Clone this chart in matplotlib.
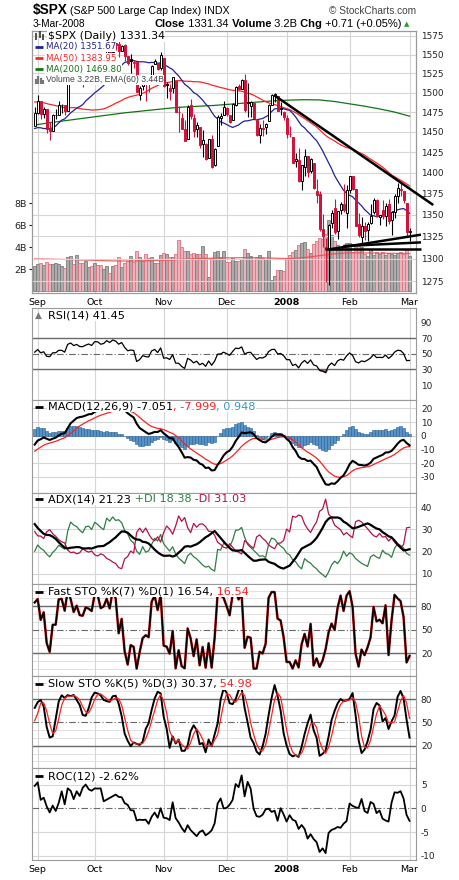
import numpy as np
import pandas as pd
import matplotlib
matplotlib.use('Agg')
import matplotlib.pyplot as plt
from matplotlib.lines import Line2D
from matplotlib.ticker import FixedLocator, NullLocator, NullFormatter

plt.rcParams['axes.unicode_minus'] = False

W, H = 460, 880

# daily bars 31-Aug-2007 .. 3-Mar-2008
opens = [1457.6,
         1474.0, 1488.8, 1472.0, 1478.6, 1453.5, 1451.7, 1471.1, 1471.5, 1483.9, 1484.2, 1476.6, 1519.8, 1528.7, 1518.8, 1525.8, 1516.3, 1518.6, 1527.3, 1531.2,
         1527.3, 1546.9, 1545.8, 1539.9, 1543.8, 1556.5, 1553.2, 1565.0, 1564.7, 1555.4, 1562.3, 1547.8, 1544.4, 1539.3, 1540.0, 1497.0, 1509.0, 1516.6, 1516.2, 1522.2, 1536.9, 1539.4, 1532.2,
         1545.8, 1511.1, 1505.6, 1505.3, 1515.5, 1475.3, 1467.6, 1453.7, 1441.4, 1483.4, 1468.0, 1453.1, 1456.7, 1434.5, 1434.7, 1417.6, 1440.7, 1409.6, 1432.9, 1467.4, 1471.8,
         1479.6, 1471.3, 1465.2, 1484.6, 1508.6, 1505.1, 1516.7, 1487.6, 1483.3, 1486.2, 1465.1, 1445.9, 1454.7, 1456.4, 1463.2, 1484.6, 1495.1, 1495.1, 1479.8, 1475.3,
         1468.0, 1447.6, 1444.0, 1414.1, 1415.7, 1390.3, 1406.8, 1419.9, 1401.6, 1411.9, 1377.4, 1374.8, 1333.9, 1312.9, 1310.4, 1340.1, 1357.3, 1330.7, 1355.9, 1362.2, 1352.0,
         1378.6, 1395.4, 1380.3, 1339.5, 1324.0, 1336.9, 1331.9, 1340.6, 1353.1, 1367.3, 1347.5, 1355.9, 1348.4, 1362.2, 1344.2, 1352.8, 1371.8, 1379.0, 1378.2, 1364.1,
         1330.5]
highs = [1481.5,
         1496.4, 1488.8, 1481.5, 1478.6, 1462.0, 1472.5, 1479.5, 1489.6, 1485.4, 1484.2, 1519.9, 1538.7, 1529.1, 1530.9, 1530.0, 1518.3, 1529.4, 1532.5, 1533.7,
         1549.0, 1548.0, 1546.3, 1544.0, 1561.9, 1556.5, 1565.3, 1565.4, 1576.1, 1563.0, 1564.7, 1547.8, 1550.7, 1542.8, 1540.0, 1508.1, 1520.0, 1517.2, 1523.2, 1535.5, 1544.7, 1539.4, 1552.8,
         1545.8, 1513.2, 1510.8, 1520.8, 1515.5, 1482.5, 1474.1, 1464.9, 1483.4, 1492.1, 1472.7, 1462.2, 1456.7, 1452.6, 1436.4, 1440.9, 1446.1, 1429.5, 1471.6, 1473.8, 1488.9,
         1481.2, 1471.3, 1486.1, 1508.0, 1510.6, 1518.3, 1523.6, 1512.0, 1489.4, 1486.7, 1465.1, 1460.2, 1464.4, 1461.5, 1485.4, 1497.6, 1498.9, 1495.1, 1488.0, 1475.8,
         1471.8, 1456.8, 1444.0, 1423.9, 1430.3, 1409.2, 1429.1, 1419.9, 1417.3, 1411.9, 1392.0, 1377.7, 1350.3, 1322.7, 1339.0, 1355.2, 1368.6, 1354.0, 1364.9, 1385.9, 1385.6,
         1396.0, 1395.4, 1380.3, 1352.0, 1347.3, 1341.2, 1341.4, 1362.1, 1369.2, 1368.2, 1350.0, 1367.3, 1363.7, 1367.9, 1354.3, 1374.4, 1387.3, 1388.3, 1378.2, 1364.1,
         1335.1]
lows = [1457.6,
        1472.2, 1466.3, 1467.4, 1449.1, 1439.3, 1451.7, 1465.8, 1471.5, 1473.2, 1471.8, 1476.6, 1519.8, 1516.4, 1518.8, 1514.5, 1507.1, 1518.6, 1524.8, 1521.0,
        1527.3, 1540.6, 1536.3, 1536.5, 1543.8, 1549.0, 1551.8, 1555.5, 1546.7, 1554.1, 1540.8, 1536.3, 1526.0, 1531.8, 1500.3, 1490.4, 1503.6, 1489.6, 1500.5, 1522.2, 1536.9, 1529.6, 1529.4,
        1506.7, 1492.5, 1489.9, 1499.1, 1475.0, 1450.3, 1453.0, 1438.5, 1441.4, 1466.5, 1443.5, 1444.0, 1430.4, 1419.3, 1415.6, 1417.6, 1406.1, 1407.4, 1432.9, 1458.4, 1470.9,
        1470.1, 1460.7, 1465.2, 1482.2, 1502.7, 1504.7, 1475.0, 1468.2, 1469.2, 1467.8, 1445.4, 1435.7, 1445.3, 1447.5, 1463.2, 1484.6, 1488.2, 1475.9, 1471.7, 1465.1,
        1442.1, 1443.7, 1411.2, 1406.5, 1388.3, 1378.7, 1395.3, 1394.8, 1399.8, 1380.6, 1364.3, 1330.7, 1312.5, 1274.0, 1270.1, 1334.3, 1327.5, 1322.3, 1350.3, 1353.0, 1334.1,
        1375.9, 1379.7, 1336.6, 1324.3, 1317.5, 1321.1, 1320.3, 1339.4, 1350.8, 1347.3, 1338.1, 1345.0, 1336.8, 1339.4, 1327.0, 1346.1, 1363.3, 1372.0, 1363.2, 1325.4,
        1320.0]
closes = [1473.99,
          1489.42, 1472.29, 1478.55, 1453.55, 1451.70, 1471.49, 1471.56, 1483.95, 1484.25, 1476.65, 1519.78, 1529.03, 1518.75, 1525.75, 1517.73, 1517.21, 1525.42, 1531.38, 1526.75,
          1547.04, 1546.63, 1539.59, 1542.84, 1557.59, 1552.58, 1565.15, 1562.47, 1554.41, 1561.80, 1548.71, 1538.53, 1541.24, 1540.08, 1500.63, 1506.33, 1519.59, 1515.88, 1514.40, 1535.28, 1540.98, 1531.02, 1549.38,
          1508.44, 1509.65, 1502.17, 1520.27, 1475.62, 1474.77, 1453.70, 1439.18, 1481.05, 1470.58, 1451.15, 1458.74, 1433.27, 1439.70, 1416.77, 1440.70, 1407.22, 1428.23, 1469.02, 1469.72, 1481.14,
          1472.42, 1462.79, 1485.01, 1507.34, 1504.66, 1515.96, 1477.65, 1486.59, 1488.41, 1467.95, 1445.90, 1454.98, 1453.00, 1460.12, 1484.46, 1496.45, 1497.66, 1476.27, 1478.49, 1468.36,
          1447.16, 1447.16, 1411.63, 1416.18, 1390.19, 1409.13, 1420.33, 1401.02, 1416.25, 1380.95, 1373.20, 1333.25, 1325.19, 1310.50, 1338.60, 1352.07, 1330.61, 1353.96, 1362.30, 1355.81, 1378.55,
          1395.42, 1380.82, 1336.64, 1326.45, 1336.91, 1331.29, 1339.13, 1348.86, 1367.21, 1348.86, 1349.99, 1348.78, 1360.03, 1342.53, 1353.11, 1371.80, 1381.29, 1380.02, 1367.68, 1330.63,
          1331.34]
# billions of shares
volume = [2.30,
          2.45, 2.55, 2.40, 2.70, 2.50, 2.50, 2.60, 2.50, 2.30, 2.10, 3.10, 3.20, 2.45, 3.30, 2.60, 2.60, 2.75, 2.20, 2.30,
          2.55, 2.40, 2.40, 2.00, 2.30, 1.65, 2.30, 2.40, 3.10, 2.20, 2.60, 2.75, 3.20, 2.70, 3.65, 3.10, 2.75, 3.40, 3.00, 3.10, 2.60, 2.60, 3.30,
          3.45, 3.40, 3.10, 3.10, 3.40, 4.65, 4.00, 3.65, 3.65, 3.40, 3.50, 3.40, 3.40, 4.10, 3.40, 1.30, 3.00, 3.55, 3.70, 3.10, 3.70,
          2.70, 2.70, 3.00, 2.80, 2.75, 2.90, 3.90, 3.50, 3.20, 2.90, 3.10, 3.30, 3.00, 2.90, 3.70, 1.00, 1.40, 1.90, 1.90, 1.85,
          3.00, 3.30, 3.60, 3.80, 4.20, 4.40, 4.50, 3.90, 3.50, 4.30, 4.60, 4.85, 4.80, 5.20, 6.50, 5.10, 4.60, 4.20, 3.90, 4.00, 4.40,
          4.40, 3.60, 4.00, 4.10, 4.00, 3.40, 3.20, 3.90, 3.30, 3.60, 3.40, 3.60, 3.30, 3.50, 3.40, 3.30, 3.50, 3.60, 3.40, 3.90,
          3.22]

# Jun-Aug 2007 history, only used to warm up the indicators
pre_close = [1536.34, 1539.18, 1530.95, 1517.38, 1490.72, 1507.67, 1509.12, 1493.00, 1515.67, 1522.97, 1532.91, 1531.05, 1533.70, 1512.84, 1522.19, 1502.56, 1497.74, 1492.89, 1506.34, 1505.71, 1503.35,
             1519.43, 1524.87, 1525.40, 1530.44, 1531.85, 1510.12, 1518.76, 1547.70, 1552.50, 1549.52, 1549.37, 1546.17, 1553.08, 1534.10, 1541.57, 1511.04, 1518.09, 1482.66, 1458.95, 1473.91, 1455.27,
             1465.81, 1472.20, 1433.06, 1467.67, 1476.71, 1497.49, 1453.09, 1453.64, 1452.92, 1426.54, 1406.70, 1411.27, 1445.94, 1445.55, 1447.12, 1464.07, 1462.50, 1479.37, 1466.79, 1432.36, 1463.76, 1457.64]
pre_high = [1540.5, 1540.6, 1539.2, 1530.9, 1517.4, 1507.8, 1515.5, 1511.3, 1515.7, 1526.5, 1538.7, 1535.0, 1535.4, 1537.3, 1522.9, 1522.2, 1514.6, 1506.1, 1506.6, 1514.8, 1517.5,
            1519.5, 1526.0, 1526.9, 1530.4, 1534.3, 1531.9, 1519.3, 1547.9, 1555.1, 1555.9, 1555.2, 1549.4, 1555.9, 1553.1, 1547.2, 1541.6, 1526.0, 1518.1, 1488.5, 1477.9, 1488.3,
            1468.4, 1476.4, 1473.2, 1467.7, 1488.3, 1503.9, 1497.5, 1462.0, 1466.3, 1456.7, 1440.8, 1415.1, 1450.3, 1451.8, 1456.1, 1464.9, 1472.1, 1479.4, 1479.4, 1466.8, 1463.8, 1468.4]
pre_low = [1530.6, 1530.5, 1525.6, 1514.9, 1490.4, 1490.7, 1506.1, 1492.8, 1492.9, 1515.7, 1523.0, 1529.3, 1525.7, 1512.4, 1504.8, 1500.7, 1492.7, 1490.5, 1484.2, 1503.4, 1493.6,
           1503.4, 1519.4, 1517.7, 1520.1, 1527.5, 1510.0, 1506.1, 1518.8, 1544.9, 1546.7, 1547.2, 1533.7, 1546.2, 1529.2, 1534.1, 1508.6, 1503.2, 1465.7, 1458.9, 1454.3, 1454.3,
           1439.6, 1460.6, 1432.8, 1427.4, 1455.8, 1476.7, 1453.0, 1429.7, 1451.5, 1425.0, 1404.4, 1370.6, 1411.3, 1430.5, 1432.5, 1447.1, 1452.5, 1460.3, 1465.8, 1432.0, 1432.4, 1451.3]

# every 5th bar
ma200_idx = list(range(0, 126, 5))
ma200_val = [1458.6, 1461.5, 1464.0, 1466.5, 1469.0, 1471.5, 1474.0, 1476.0, 1478.0, 1480.0, 1481.5, 1482.5, 1483.5,
             1485.0, 1486.5, 1488.0, 1489.5, 1490.3, 1490.8, 1490.5, 1488.5, 1485.5, 1482.5, 1479.0, 1475.0, 1469.8]
vol_ema_val = [2.95, 2.93, 2.90, 2.86, 2.82, 2.78, 2.76, 2.77, 2.80, 2.85, 2.93, 2.99, 3.02,
               3.05, 3.07, 3.06, 3.02, 2.98, 3.08, 3.25, 3.42, 3.50, 3.50, 3.48, 3.46, 3.44]

month_idx = [1, 20, 43, 64, 84, 105, 125]
month_lbl = ['Sep', 'Oct', 'Nov', 'Dec', '2008', 'Feb', 'Mar']
price_ticks = [1275, 1300, 1325, 1350, 1375, 1400, 1425, 1450, 1475, 1500, 1525, 1550, 1575]

# hand drawn trendlines: (bar index, price)
trend_lines = [([80.1, 132.9], [1496.0, 1361.4]),
               ([96.8, 128.8], [1310.3, 1310.3]),
               ([98.2, 128.8], [1310.3, 1327.0]),
               ([102.9, 128.8], [1314.0, 1318.2])]

# ---- indicators ----
c = pd.Series(pre_close + closes)
hi = pd.Series(pre_high + highs)
lo = pd.Series(pre_low + lows)
k0 = len(pre_close)


def shown(s):
    return s.iloc[k0:].to_numpy()


ma20 = shown(c.rolling(20).mean())
ma50 = shown(c.rolling(50).mean())

d = c.diff()
gain = d.clip(lower=0).ewm(alpha=1 / 14, adjust=False).mean()
loss = (-d.clip(upper=0)).ewm(alpha=1 / 14, adjust=False).mean()
rsi = shown(100 - 100 / (1 + gain / loss))

macd_s = c.ewm(span=12, adjust=False).mean() - c.ewm(span=26, adjust=False).mean()
sig_s = macd_s.ewm(span=9, adjust=False).mean()
macd = shown(macd_s)
sig = shown(sig_s)
hist = macd - sig

upm = hi.diff()
dnm = -lo.diff()
pdm = pd.Series(np.where((upm > dnm) & (upm > 0), upm, 0.0))
mdm = pd.Series(np.where((dnm > upm) & (dnm > 0), dnm, 0.0))
tr = pd.concat([hi - lo, (hi - c.shift()).abs(), (lo - c.shift()).abs()], axis=1).max(axis=1)
atr = tr.ewm(alpha=1 / 14, adjust=False).mean()
pdi_s = 100 * pdm.ewm(alpha=1 / 14, adjust=False).mean() / atr
mdi_s = 100 * mdm.ewm(alpha=1 / 14, adjust=False).mean() / atr
dx = 100 * (pdi_s - mdi_s).abs() / (pdi_s + mdi_s)
adx = shown(dx.ewm(alpha=1 / 14, adjust=False).mean())
pdi = shown(pdi_s)
mdi = shown(mdi_s)

fast_k = shown(100 * (c - lo.rolling(7).min()) / (hi.rolling(7).max() - lo.rolling(7).min()))
k5 = 100 * (c - lo.rolling(5).min()) / (hi.rolling(5).max() - lo.rolling(5).min())
slow_k_s = k5.rolling(3).mean()
slow_k = shown(slow_k_s)
slow_d = shown(slow_k_s.rolling(3).mean())
roc = shown(100 * (c / c.shift(12) - 1))

# ---- drawing ----
RED = '#d3123c'
GRID = '#d6d6d6'
idx = np.arange(len(closes))
o = np.array(opens)
cl = np.array(closes)
prev = np.r_[pre_close[-1], cl[:-1]]
up_day = cl > prev

fig = plt.figure(figsize=(W / 100, H / 100), dpi=100)
fig.patch.set_facecolor('white')


def panel(top, bottom):
    a = fig.add_axes([32 / W, 1 - bottom / H, 384 / W, (bottom - top) / H])
    a.set_xlim(-0.9, 127.15)
    for s in a.spines.values():
        s.set_color('#9a9a9a')
        s.set_linewidth(0.8)
    a.set_xticks(month_idx)
    a.xaxis.grid(True, color=GRID, lw=0.8)
    a.set_axisbelow(True)
    a.tick_params(axis='x', length=0, labelbottom=False, labelsize=6.8, pad=3.6)
    a.yaxis.tick_right()
    a.tick_params(axis='y', length=0, pad=3.5, labelsize=6.4, colors='#222222')
    return a


def month_labels(a):
    a.tick_params(axis='x', labelbottom=True)
    a.set_xticklabels(month_lbl)
    for t in a.get_xticklabels():
        if t.get_text() == '2008':
            t.set_fontweight('bold')


# price panel with volume underneath
axv = panel(31, 293)
axv.yaxis.tick_left()
axv.set_ylim(-0.15, 23.7)
axv.set_yticks([2, 4, 6, 8])
axv.set_yticklabels(['2B', '4B', '6B', '8B'])
axv.tick_params(axis='y', length=2, pad=1.5, labelsize=6.8, colors='#222222')
axv.bar(idx, volume, width=0.9,
        color=np.where(up_day, '#ababab', '#eab4bd'),
        edgecolor=np.where(up_day, '#7c7c7c', '#e07080'), linewidth=0.6)
axv.plot(ma200_idx, vol_ema_val, color='#f04848', lw=0.9, alpha=0.85)
month_labels(axv)

ax = axv.twinx()
ax.set_yscale('log')
ax.set_ylim(1261.9, 1581.8)
ax.yaxis.set_major_locator(FixedLocator(price_ticks))
ax.yaxis.set_minor_locator(NullLocator())
ax.yaxis.set_minor_formatter(NullFormatter())
ax.set_yticklabels([str(p) for p in price_ticks])
ax.tick_params(axis='y', which='both', length=0, pad=3.5, labelsize=6.4, colors='#222222')
ax.tick_params(axis='x', length=0, labelbottom=False)
ax.yaxis.grid(True, color=GRID, lw=0.8)
ax.set_axisbelow(True)
for s in ax.spines.values():
    s.set_color('#9a9a9a')
    s.set_linewidth(0.8)

ax.plot(ma200_idx, ma200_val, color='#127512', lw=0.9, zorder=2)
ax.plot(idx, ma50, color='#ff2626', lw=0.9, zorder=2)
ax.plot(idx, ma20, color='#22229a', lw=0.9, zorder=2)

cand_col = np.where(up_day, 'black', RED)
filled = cl < o
ax.vlines(idx, lows, highs, colors=cand_col, lw=0.8, zorder=3)
ax.bar(idx, np.maximum(np.abs(cl - o), 0.4), bottom=np.minimum(o, cl), width=0.66,
       color=np.where(filled, cand_col, 'white'), edgecolor=cand_col, linewidth=0.7, zorder=4)

for tx, ty in trend_lines:
    ax.plot(tx, ty, color='black', lw=1.8, clip_on=False, zorder=6, solid_capstyle='butt')

# RSI
ax_r = panel(308.3, 400)
ax_r.set_ylim(-9, 108)
ax_r.set_yticks([10, 30, 50, 70, 90])
for lv in (70, 30):
    ax_r.axhline(lv, color='#6a6a6a', lw=1)
ax_r.axhline(50, color='#6a6a6a', lw=0.8, ls=(0, (6, 2, 1, 2)))
ax_r.fill_between(idx, rsi, 30, where=rsi < 30, interpolate=True, color='#b07880')
ax_r.plot(idx, rsi, color='black', lw=0.9)

# MACD
ax_m = panel(400, 492.7)
ax_m.set_ylim(-41.7, 26.1)
ax_m.set_yticks([-30, -20, -10, 0, 10, 20])
ax_m.yaxis.grid(True, color=GRID, lw=0.8)
ax_m.bar(idx, hist, width=0.8, color='#5592c8', edgecolor='#2c5f92', linewidth=0.4)
ax_m.plot(idx, sig, color='#ff2020', lw=0.9)
ax_m.plot(idx, macd, color='black', lw=1.5)

# ADX
ax_a = panel(492.7, 584.3)
ax_a.set_ylim(5.2, 46.6)
ax_a.set_yticks([10, 20, 30, 40])
ax_a.yaxis.grid(True, color=GRID, lw=0.8)
ax_a.plot(idx, pdi, color='#2e7d46', lw=0.9)
ax_a.plot(idx, mdi, color='#b3124a', lw=0.9)
ax_a.plot(idx, adx, color='black', lw=1.6)


def sto_panel(top, bottom, ylim):
    a = panel(top, bottom)
    a.set_ylim(*ylim)
    a.set_yticks([20, 50, 80])
    for lv in (0, 10, 30, 40, 60, 70, 90, 100):
        a.axhline(lv, color='#e2e2e2', lw=0.7, zorder=0)
    for lv in (80, 20):
        a.axhline(lv, color='#6a6a6a', lw=1)
    a.axhline(50, color='#6a6a6a', lw=0.8, ls=(0, (6, 2, 1, 2)))
    return a


ax_f = sto_panel(584.3, 676, (-9, 108))
ax_f.plot(idx, fast_k, color='#c01818', lw=1.8)
ax_f.plot(idx, fast_k, color='black', lw=1.1)

ax_s = sto_panel(676, 768.3, (-9, 109.6))
ax_s.plot(idx, slow_k, color='black', lw=1.4)
ax_s.plot(idx, slow_d, color='#ff2020', lw=0.9)

# ROC
ax_c = panel(768.3, 860)
ax_c.set_ylim(-10.9, 8.5)
ax_c.set_yticks([-10, -5, 0, 5])
for lv in (-10, -5, 5):
    ax_c.axhline(lv, color=GRID, lw=0.8, zorder=0)
ax_c.axhline(0, color='#6a6a6a', lw=0.8, ls=(0, (6, 2, 1, 2)))
ax_c.plot(idx, roc, color='black', lw=1.3)
month_labels(ax_c)

# ---- texts ----
rend = fig.canvas.get_renderer()


def chain(x, y, parts, size, family='DejaVu Sans', bg=False):
    for s, col, bold in parts:
        t = fig.text(x / W, 1 - y / H, s, color=col, fontsize=size, family=family,
                     fontweight='bold' if bold else 'normal', ha='left', va='center')
        if bg:
            t.set_bbox(dict(facecolor='white', edgecolor='none', pad=0.4))
        x += t.get_window_extent(renderer=rend).width
    return x


def fline(xs, ys, col, lw):
    fig.add_artist(Line2D([v / W for v in xs], [1 - v / H for v in ys], color=col, lw=lw,
                          solid_capstyle='butt'))


def key(y, col):
    fline([35, 43.5], [y, y], col, 2)


# header
chain(32.5, 10, [(r'\$SPX', 'black', True)], 9.8, 'Liberation Sans')
chain(70, 11, [('(S&P 500 Large Cap Index) INDX', 'black', False)], 7.7, 'Liberation Sans')
fig.text(416 / W, 1 - 10.5 / H, '\u00a9 StockCharts.com', fontsize=7.3, family='Liberation Sans',
         color='#444444', ha='right', va='center')
chain(32.5, 24, [('3-Mar-2008', 'black', False)], 7.3, 'Liberation Sans')
end = chain(155, 24, [('Close', 'black', True), (' 1331.34', 'black', False), (' Volume', 'black', True),
                      (' 3.2B', 'black', False), (' Chg', 'black', True), (' +0.71 (+0.05%)', 'black', False)],
            8, 'Liberation Sans')
fig.text((end + 2) / W, 1 - 24 / H, '\u25b2', fontsize=5, color='#2a9a3a', ha='left', va='center')

# price legend
for xx, y0, y1 in ((36.5, 33, 40), (40, 31.5, 38.5), (43.5, 34, 40)):
    fline([xx, xx], [y0, y1], '#333333', 1.2)
chain(47.7, 36, [(r'\$SPX (Daily) 1331.34', 'black', False)], 7.9, bg=True)
for y, col, txt in ((47, '#22229a', 'MA(20) 1351.67'), (58.5, '#ff2626', 'MA(50) 1383.95'),
                    (69.5, '#127512', 'MA(200) 1469.80')):
    key(y, col)
    chain(45.7, y, [(txt, col, False)], 6.3, bg=True)
for xx, yt in ((36, 79.5), (38.5, 76.5), (41, 78), (43.5, 80.5)):
    fline([xx, xx], [84, yt], '#777777', 1.6)
chain(45.7, 80, [('Volume 3.22B, EMA(60) 3.44B', '#444444', False)], 6.2, 'Liberation Sans', bg=True)

# indicator legends
fig.text(35 / W, 1 - 315.7 / H, '\u25b2', fontsize=6.5, color='#777777', ha='left', va='center')
chain(47.7, 315.7, [('RSI(14) 41.45', 'black', False)], 8.1, bg=True)
key(406.7, 'black')
chain(47.7, 406.7, [('MACD(12,26,9) -7.051', 'black', False), (', -7.999', '#ff2020', False),
                    (', 0.948', '#3399cc', False)], 8.1, bg=True)
key(499.3, 'black')
chain(47.7, 499.3, [('ADX(14) 21.23', 'black', False), (' +DI 18.38', '#2e7d46', False),
                    (' -DI 31.03', '#b3124a', False)], 8.1, bg=True)
key(591.7, 'black')
chain(47.7, 591.7, [('Fast STO %K(7) %D(1) 16.54,', 'black', False), (' 16.54', '#ff2020', False)], 8.1, bg=True)
key(684, 'black')
chain(47.7, 684, [('Slow STO %K(5) %D(3) 30.37,', 'black', False), (' 54.98', '#ff2020', False)], 8.1, bg=True)
key(776, 'black')
chain(47.7, 776, [('ROC(12) -2.62%', 'black', False)], 8.1, bg=True)

fig.savefig('out.png', dpi=100, facecolor='white')
